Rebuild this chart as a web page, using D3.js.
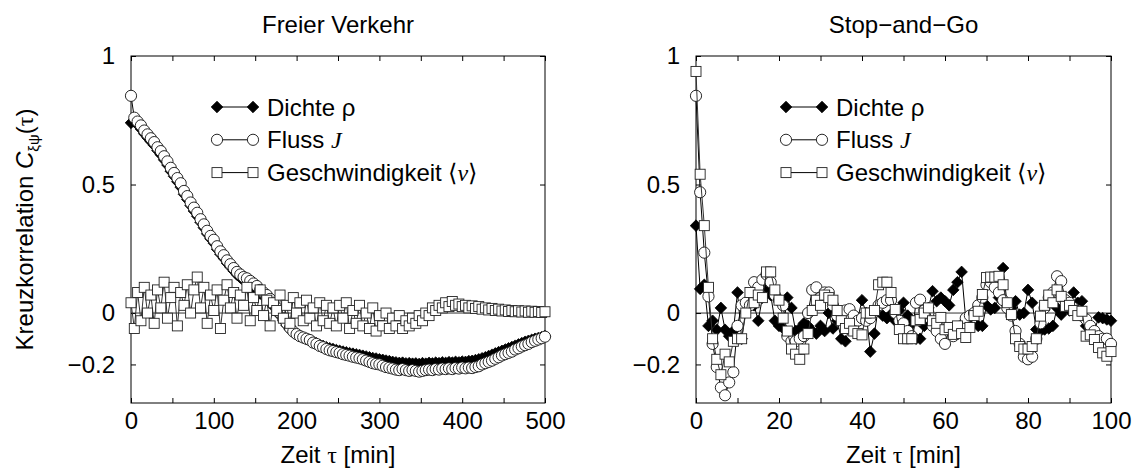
<!DOCTYPE html>
<html>
<head>
<meta charset="utf-8">
<script src="https://cdn.jsdelivr.net/npm/d3@7"></script>
<style>
  body { margin: 0; background: #fff; }
  svg text { font-family: "Liberation Sans", Arial, sans-serif; fill: #000; }
</style>
</head>
<body>
<svg id="chart" width="1133" height="474"></svg>
<script>
// ---- data: left panel "Freier Verkehr", tau in steps of 4 min ----
var tauFree = d3.range(0, 501, 4);

var freeDichte = [
  0.74, 0.745, 0.732, 0.716, 0.698, 0.682, 0.667, 0.652, 0.632, 0.616,
  0.596, 0.576, 0.552, 0.532, 0.511, 0.49, 0.462, 0.442, 0.418, 0.397,
  0.377, 0.353, 0.332, 0.308, 0.289, 0.272, 0.248, 0.229, 0.213, 0.194,
  0.179, 0.164, 0.149, 0.138, 0.127, 0.12, 0.11, 0.10, 0.09, 0.076,
  0.066, 0.055, 0.04, 0.026, 0.008, -0.01, -0.03, -0.048, -0.064, -0.076,
  -0.084, -0.09, -0.096, -0.102, -0.108, -0.113, -0.118, -0.124, -0.128, -0.133,
  -0.137, -0.14, -0.144, -0.147, -0.15, -0.153, -0.156, -0.158, -0.161, -0.163,
  -0.166, -0.169, -0.172, -0.175, -0.177, -0.18, -0.182, -0.185, -0.187, -0.19,
  -0.192, -0.194, -0.193, -0.196, -0.195, -0.197, -0.196, -0.198, -0.195, -0.197,
  -0.194, -0.196, -0.193, -0.195, -0.192, -0.194, -0.191, -0.193, -0.19, -0.192,
  -0.189, -0.19, -0.187, -0.186, -0.183, -0.18, -0.176, -0.172, -0.167, -0.162,
  -0.157, -0.152, -0.147, -0.142, -0.137, -0.132, -0.127, -0.122, -0.117, -0.112,
  -0.108, -0.104, -0.10, -0.097, -0.094, -0.09
];

var freeFluss = [
  0.845, 0.76, 0.745, 0.73, 0.71, 0.695, 0.68, 0.665, 0.645, 0.63,
  0.61, 0.59, 0.565, 0.545, 0.525, 0.505, 0.475, 0.455, 0.43, 0.41,
  0.39, 0.365, 0.345, 0.32, 0.30, 0.285, 0.26, 0.24, 0.225, 0.205,
  0.19, 0.175, 0.16, 0.15, 0.14, 0.135, 0.125, 0.115, 0.105, 0.09,
  0.08, 0.07, 0.055, 0.04, 0.02, 0.0, -0.02, -0.04, -0.058, -0.072,
  -0.082, -0.09, -0.095, -0.10, -0.105, -0.115, -0.12, -0.128, -0.133, -0.14,
  -0.145, -0.148, -0.152, -0.155, -0.16, -0.163, -0.166, -0.17, -0.173, -0.176,
  -0.18, -0.185, -0.19, -0.195, -0.198, -0.20, -0.205, -0.21, -0.213, -0.216,
  -0.22, -0.222, -0.218, -0.222, -0.225, -0.222, -0.225, -0.228, -0.225, -0.222,
  -0.22, -0.222, -0.218, -0.22, -0.216, -0.218, -0.215, -0.218, -0.214, -0.216,
  -0.212, -0.215, -0.212, -0.214, -0.21, -0.207, -0.20, -0.195, -0.19, -0.185,
  -0.178, -0.172, -0.165, -0.16, -0.155, -0.15, -0.142, -0.137, -0.13, -0.125,
  -0.12, -0.113, -0.108, -0.103, -0.098, -0.092
];

var freeGeschw = [
  0.04, -0.06, 0.08, -0.03, 0.10, 0.0, 0.07, -0.04, 0.09, 0.02,
  0.12, -0.02, 0.06, 0.10, -0.05, 0.08, 0.03, 0.11, 0.0, 0.09,
  0.14, 0.02, 0.10, -0.04, 0.07, 0.01, 0.09, -0.06, 0.05, 0.11,
  0.02, 0.08, -0.02, 0.07, 0.03, 0.10, -0.03, 0.06, 0.01, 0.09,
  -0.01, 0.05, -0.05, 0.04, 0.01, 0.07, -0.02, 0.03, -0.04, 0.06,
  0.0, 0.04, -0.03, 0.05, -0.02, 0.02, -0.05, 0.04, -0.03, 0.03,
  -0.04, 0.02, -0.05, 0.03, -0.02, 0.04, -0.06, 0.01, -0.04, 0.03,
  -0.05, 0.0, -0.06, 0.02, -0.07, -0.01, -0.05, 0.0, -0.06, -0.02,
  -0.05, -0.01, -0.06, -0.03, -0.05, -0.02, -0.04, -0.01, -0.03, 0.0,
  -0.01, 0.02, 0.01, 0.03, 0.02, 0.04, 0.025, 0.045, 0.03, 0.035,
  0.025, 0.03, 0.02, 0.028, 0.018, 0.025, 0.015, 0.02, 0.012, 0.018,
  0.01, 0.015, 0.008, 0.012, 0.006, 0.01, 0.005, 0.009, 0.004, 0.008,
  0.003, 0.007, 0.003, 0.006, 0.002, 0.005
];

// ---- data: right panel "Stop-and-Go", tau in steps of 1 min ----
var tauStop = d3.range(0, 101, 1);

var stopDichte = [
  0.34, 0.094, 0.11, -0.05, -0.03, -0.065, 0.02, -0.065, -0.09, -0.07,
  0.08, -0.10, 0.01, 0.05, 0.03, -0.03, 0.06, 0.10, 0.07, -0.03,
  -0.05, -0.06, 0.06, 0.02, -0.07, -0.06, -0.04, -0.05, -0.07, -0.08,
  -0.05, -0.07, 0.0, -0.06, -0.03, -0.10, -0.11, -0.05, -0.03, -0.02,
  0.05, 0.0, -0.15, -0.08, 0.03, -0.01, -0.02, -0.005, -0.03, 0.01,
  0.04, -0.01, -0.04, -0.10, -0.10, -0.05, 0.02, 0.085, 0.046, 0.06,
  0.046, 0.03, 0.09, 0.12, 0.16, -0.025, -0.05, 0.0, -0.05, -0.05,
  0.03, 0.014, 0.02, 0.06, 0.175, 0.03, 0.02, 0.046, -0.006, 0.0,
  0.09, 0.04, -0.064, -0.07, -0.064, -0.06, -0.05, 0.02, -0.006, 0.02,
  0.01, 0.08, 0.04, 0.046, -0.05, -0.06, -0.07, -0.017, -0.02, -0.025,
  -0.03
];

var stopFluss = [
  0.845, 0.47, 0.235, 0.065, -0.12, -0.21, -0.29, -0.32, -0.27, -0.23,
  -0.05, 0.03, 0.04, 0.03, 0.12, 0.10, 0.13, 0.15, 0.12, 0.07,
  0.05, 0.03, -0.09, -0.11, -0.11, -0.10, -0.09, 0.0, 0.09, 0.10,
  0.06, 0.08, 0.08, 0.03, -0.01, 0.0, 0.01, 0.015, -0.01, -0.03,
  -0.02, -0.03, -0.02, 0.005, 0.03, 0.04, 0.05, 0.05, 0.0, -0.03,
  -0.04, -0.07, -0.09, 0.04, 0.052, 0.01, 0.0, -0.05, -0.07, -0.10,
  -0.12, -0.06, -0.09, -0.07, -0.05, -0.02, -0.01, 0.0, 0.03, 0.06,
  0.11, 0.12, 0.10, 0.08, 0.05, 0.02, -0.01, -0.07, -0.12, -0.17,
  -0.18, -0.17, -0.10, -0.04, 0.02, 0.06, 0.08, 0.143, 0.124, 0.05,
  0.04, 0.02, 0.01, -0.01, -0.025, -0.05, -0.07, -0.09, -0.1, -0.10,
  -0.12
];

var stopGeschw = [
  0.94, 0.54, 0.34, 0.10, -0.10, -0.18, -0.24, -0.16, -0.19, -0.11,
  -0.10, -0.10, 0.0, 0.08, 0.04, 0.07, 0.06, 0.16, 0.16, 0.09,
  0.05, -0.02, -0.07, -0.14, -0.16, -0.18, -0.14, -0.08, 0.01, 0.05,
  0.03, 0.07, 0.06, 0.05, 0.01, -0.03, -0.06, -0.04, -0.07, -0.08,
  -0.085, 0.0, 0.0, 0.01, 0.11, 0.12, 0.12, 0.08, 0.014, -0.064,
  -0.10, -0.10, -0.10, -0.03, -0.025, 0.0, 0.02, -0.03, -0.04, -0.017,
  -0.065, -0.056, -0.083, -0.05, -0.08, -0.095, -0.056, -0.01, 0.007, 0.072,
  0.138, 0.14, 0.14, 0.143, 0.11, 0.04, -0.006, -0.10, -0.13, -0.14,
  -0.14, -0.13, -0.10, -0.012, 0.03, 0.07, 0.04, 0.09, 0.065, 0.026,
  0.03, 0.01, -0.01, 0.007, -0.09, -0.085, -0.103, -0.134, -0.155, -0.168,
  -0.15
];

var yTickValues = [-0.2, 0, 0.5, 1];
var yTickLabels = ["\u22120.2", "0", "0.5", "1"];
var legendLabels = ["Dichte \u03c1", "Fluss ", "Geschwindigkeit "];

// ---- layout ----
var svg = d3.select("#chart");
var yTop = 56, yBottom = 403;
var y = d3.scaleLinear().domain([-0.35, 1]).range([yBottom, yTop]);

var panels = [
  {
    title: "Freier Verkehr",
    x: d3.scaleLinear().domain([0, 500]).range([131, 545]),
    xTicks: d3.range(0, 501, 50),
    xLabelEvery: 100,
    tau: tauFree,
    series: [freeDichte, freeFluss, freeGeschw],
    legendX: 217,
    ylabel: true
  },
  {
    title: "Stop\u2212and\u2212Go",
    x: d3.scaleLinear().domain([0, 100]).range([696, 1111]),
    xTicks: d3.range(0, 101, 10),
    xLabelEvery: 20,
    tau: tauStop,
    series: [stopDichte, stopFluss, stopGeschw],
    legendX: 786,
    ylabel: false
  }
];

// marker drawing
function diamondPath(r) {
  return "M0," + (-r) + "L" + r + ",0L0," + r + "L" + (-r) + ",0Z";
}
function drawMarker(g, type, cx, cy) {
  if (type === 0) {
    g.append("path")
      .attr("d", diamondPath(5.8))
      .attr("transform", "translate(" + cx + "," + cy + ")")
      .attr("fill", "#000")
      .attr("stroke", "#000")
      .attr("stroke-width", 0.8);
  } else if (type === 1) {
    g.append("circle")
      .attr("cx", cx).attr("cy", cy).attr("r", 5.6)
      .attr("fill", "#fff")
      .attr("stroke", "#111")
      .attr("stroke-width", 0.9);
  } else {
    g.append("rect")
      .attr("x", cx - 5).attr("y", cy - 5)
      .attr("width", 10).attr("height", 10)
      .attr("fill", "#fff")
      .attr("stroke", "#222")
      .attr("stroke-width", 0.9);
  }
}

panels.forEach(function(p) {
  var x = p.x;
  var x0 = x.range()[0], x1 = x.range()[1];
  var g = svg.append("g");

  // zero line
  g.append("line")
    .attr("x1", x0).attr("x2", x1)
    .attr("y1", y(0)).attr("y2", y(0))
    .attr("stroke", "#333")
    .attr("stroke-width", 1);

  // axes with inward ticks
  var bottom = d3.axisBottom(x).tickValues(p.xTicks).tickSizeInner(-5).tickSizeOuter(0).tickPadding(9)
    .tickFormat(function(d) { return d % p.xLabelEvery === 0 ? d : ""; });
  var top = d3.axisTop(x).tickValues(p.xTicks).tickSizeInner(-5).tickSizeOuter(0).tickFormat("");
  var left = d3.axisLeft(y).tickValues(yTickValues).tickSizeInner(-5).tickSizeOuter(0).tickPadding(16)
    .tickFormat(function(d, i) { return yTickLabels[i]; });
  var right = d3.axisRight(y).tickValues(yTickValues).tickSizeInner(-5).tickSizeOuter(0).tickFormat("");

  g.append("g").attr("transform", "translate(0," + yBottom + ")").call(bottom);
  g.append("g").attr("transform", "translate(0," + yTop + ")").call(top);
  g.append("g").attr("transform", "translate(" + x0 + ",0)").call(left);
  g.append("g").attr("transform", "translate(" + x1 + ",0)").call(right);
  g.selectAll(".domain").remove();
  g.selectAll(".tick line").attr("stroke", "#000");
  g.selectAll(".tick text")
    .style("font-family", "'Liberation Sans', Arial, sans-serif")
    .style("font-size", "24px")
    .attr("fill", "#000");

  // frame
  g.append("rect")
    .attr("x", x0).attr("y", yTop)
    .attr("width", x1 - x0).attr("height", yBottom - yTop)
    .attr("fill", "none")
    .attr("stroke", "#000")
    .attr("stroke-width", 1);

  // series: lines then markers, in legend order
  p.series.forEach(function(vals, si) {
    var pts = p.tau.map(function(t, i) { return [x(t), y(vals[i])]; });
    var sg = g.append("g");
    sg.append("path")
      .attr("d", d3.line()(pts))
      .attr("fill", "none")
      .attr("stroke", si === 2 ? "#333" : "#000")
      .attr("stroke-width", 1);
    pts.forEach(function(pt) { drawMarker(sg, si, pt[0], pt[1]); });
  });

  // legend
  var lg = g.append("g");
  legendLabels.forEach(function(lab, i) {
    var ly = 107 + i * 32.8;
    var lx1 = p.legendX, lx2 = p.legendX + 36;
    lg.append("line")
      .attr("x1", lx1).attr("x2", lx2).attr("y1", ly).attr("y2", ly)
      .attr("stroke", "#000").attr("stroke-width", 1);
    drawMarker(lg, i, lx1, ly);
    drawMarker(lg, i, lx2, ly);
    var t = lg.append("text")
      .attr("x", lx2 + 14).attr("y", ly + 8.5)
      .style("font-size", "24px")
      .text(lab);
    if (i === 1) {
      t.append("tspan").style("font-family", "'Liberation Serif', serif").style("font-style", "italic").text("J");
    } else if (i === 2) {
      t.append("tspan").style("font-family", "'Liberation Serif', serif").text("\u27e8");
      t.append("tspan").style("font-family", "'Liberation Serif', serif").style("font-style", "italic").text("v");
      t.append("tspan").style("font-family", "'Liberation Serif', serif").text("\u27e9");
    }
  });

  // title
  g.append("text")
    .attr("x", (x0 + x1) / 2).attr("y", 33)
    .attr("text-anchor", "middle")
    .style("font-size", "24px")
    .text(p.title);

  // x axis label
  var xl = g.append("text")
    .attr("x", (x0 + x1) / 2).attr("y", 463)
    .attr("text-anchor", "middle")
    .style("font-size", "24px");
  xl.append("tspan").text("Zeit ");
  xl.append("tspan").style("font-family", "'Liberation Serif', serif").text("\u03c4");
  xl.append("tspan").text(" [min]");

  // y axis label
  if (p.ylabel) {
    var yl = g.append("text")
      .attr("transform", "translate(33," + ((yTop + yBottom) / 2) + ") rotate(-90)")
      .attr("text-anchor", "middle")
      .style("font-size", "24px");
    yl.append("tspan").text("Kreuzkorrelation ");
    yl.append("tspan").style("font-style", "italic").text("C");
    yl.append("tspan").attr("dy", 6).style("font-size", "15px").text("\u03be\u03c8");
    yl.append("tspan").attr("dy", -6).text("(");
    yl.append("tspan").style("font-family", "'Liberation Serif', serif").text("\u03c4");
    yl.append("tspan").text(")");
  }
});
</script>
</body>
</html>
